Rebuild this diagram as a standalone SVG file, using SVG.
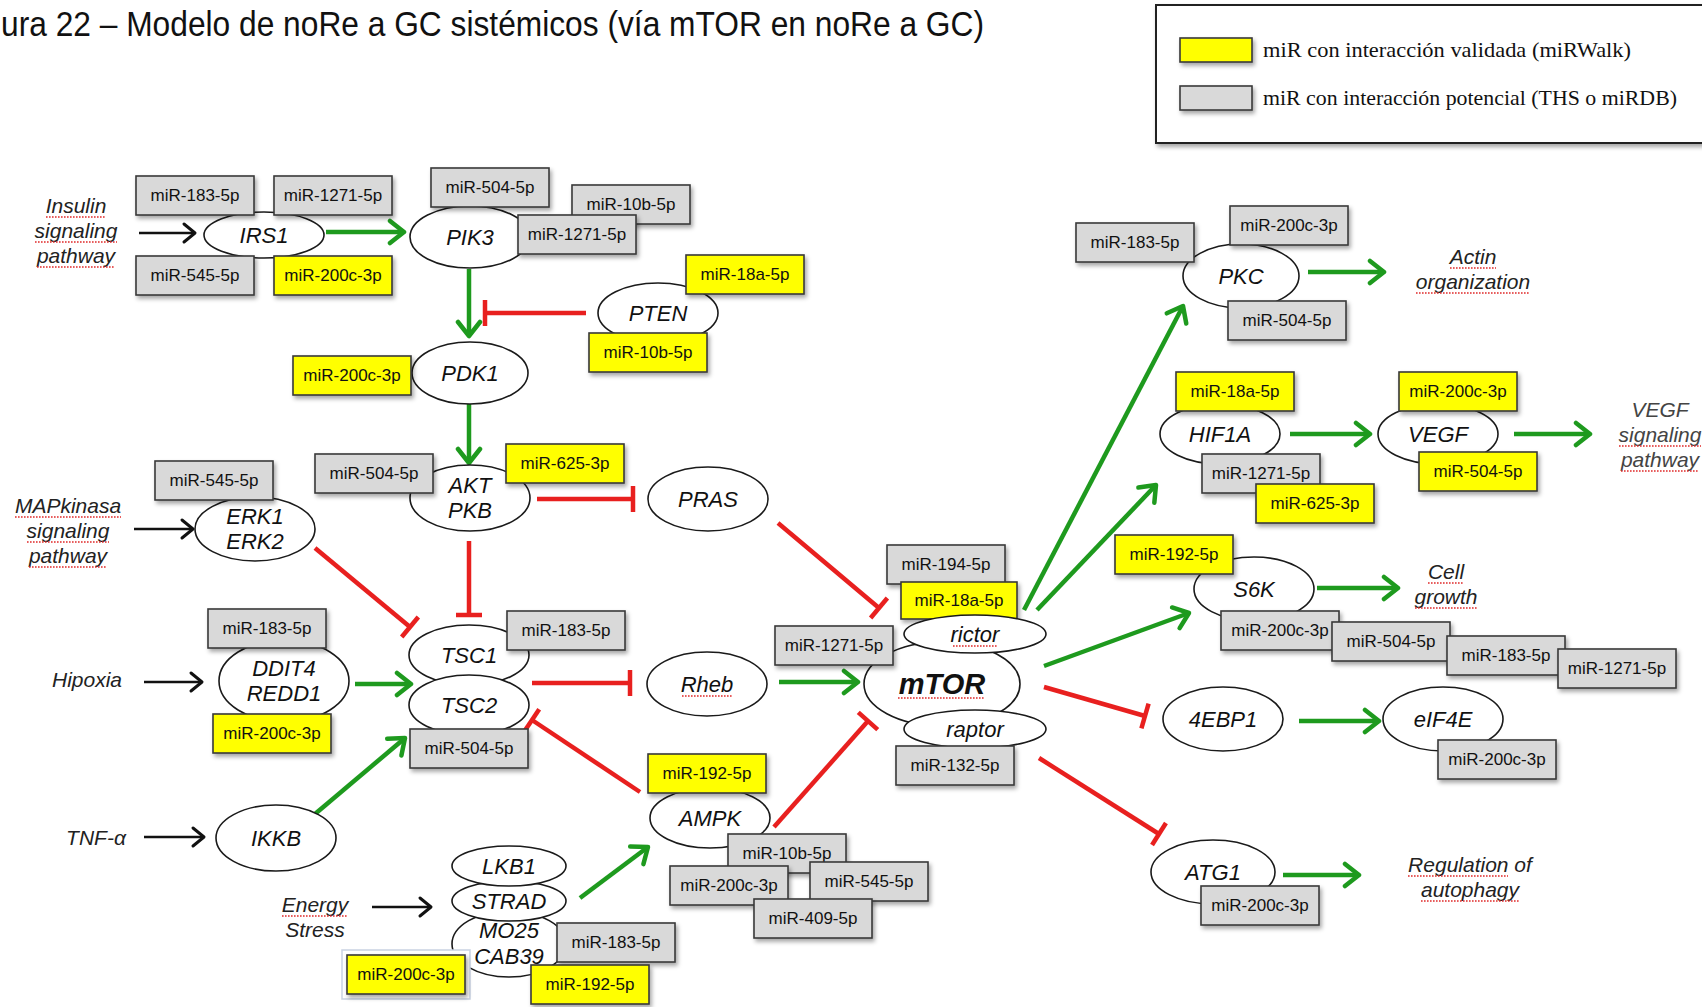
<svg xmlns="http://www.w3.org/2000/svg" width="1702" height="1007" viewBox="0 0 1702 1007">
<style>
  .g{fill:#d9d9d9;stroke:#3a3a3a;stroke-width:1.6;filter:url(#sh)}
  .y{fill:#ffff00;stroke:#3a3a3a;stroke-width:1.6;filter:url(#sh)}
  .e{fill:#fff;stroke:#1a1a1a;stroke-width:1.6}
  .ml{font-family:"Liberation Sans",Arial,sans-serif;font-size:17px;fill:#111;text-anchor:middle}
  .nl{font-family:"Liberation Sans",Arial,sans-serif;font-size:22px;font-style:italic;fill:#111;text-anchor:middle}
  .tx{font-family:"Liberation Sans",Arial,sans-serif;font-size:21px;font-style:italic;fill:#222;text-anchor:middle}
  .wv{stroke:#e02a2a;stroke-width:1.6;stroke-dasharray:1.6 1.4;fill:none}
  .ga{stroke:#1e9a1e;stroke-width:4.5;fill:none;marker-end:url(#ag)}
  .ba{stroke:#111;stroke-width:2.5;fill:none;marker-end:url(#ab)}
  .ri{stroke:#e8201f;stroke-width:4.5;fill:none;marker-end:url(#tb)}
  .lg{font-family:"Liberation Serif","Times New Roman",serif;font-size:22px;fill:#111}
</style>
<defs>
  <filter id="sh" x="-10%" y="-20%" width="130%" height="160%">
    <feDropShadow dx="2" dy="3" stdDeviation="2" flood-color="#000" flood-opacity="0.35"/>
  </filter>
  <marker id="ag" markerUnits="userSpaceOnUse" markerWidth="24" markerHeight="28" refX="19" refY="14" orient="auto">
    <path d="M5,3 L19,14 L5,25" fill="none" stroke="#1e9a1e" stroke-width="4.5" stroke-linecap="round" stroke-linejoin="round"/>
  </marker>
  <marker id="ab" markerUnits="userSpaceOnUse" markerWidth="20" markerHeight="24" refX="16" refY="12" orient="auto">
    <path d="M5,3 L16,12 L5,21" fill="none" stroke="#111" stroke-width="3" stroke-linecap="round" stroke-linejoin="round"/>
  </marker>
  <marker id="tb" markerUnits="userSpaceOnUse" markerWidth="8" markerHeight="30" refX="4" refY="15" orient="auto">
    <line x1="4" y1="2" x2="4" y2="28" stroke="#e8201f" stroke-width="4.5"/>
  </marker>
</defs>
<rect width="1702" height="1007" fill="#fff"/>

<text x="1" y="36" font-family="'Liberation Sans',Arial,sans-serif" font-size="35" fill="#111" textLength="983" lengthAdjust="spacingAndGlyphs">ura 22 – Modelo de noRe a GC sistémicos (vía mTOR en noRe a GC)</text>

<g id="legend">
  <rect x="1156" y="5" width="600" height="138" fill="#fff" stroke="#222" stroke-width="2" filter="url(#sh)"/>
  <rect x="1180" y="38" width="72" height="24" class="y"/>
  <text x="1263" y="57" class="lg" textLength="368" lengthAdjust="spacingAndGlyphs">miR con interacción validada (miRWalk)</text>
  <rect x="1180" y="86" width="72" height="24" class="g"/>
  <text x="1263" y="105" class="lg" textLength="414" lengthAdjust="spacingAndGlyphs">miR con interacción potencial (THS o miRDB)</text>
</g>

<g id="connectors">
  <line class="ba" x1="139" y1="233" x2="195" y2="233"/>
  <line class="ba" x1="134" y1="529" x2="193" y2="529"/>
  <line class="ba" x1="144" y1="682" x2="202" y2="682"/>
  <line class="ba" x1="144" y1="837" x2="204" y2="837"/>
  <line class="ba" x1="372" y1="907" x2="431" y2="907"/>
  <line class="ga" x1="326" y1="232" x2="404" y2="232"/>
  <line class="ga" x1="469" y1="269" x2="469" y2="336"/>
  <line class="ga" x1="469" y1="404" x2="469" y2="463"/>
  <line class="ga" x1="355" y1="684" x2="411" y2="684"/>
  <line class="ga" x1="315" y1="814" x2="405" y2="738"/>
  <line class="ga" x1="779" y1="682" x2="858" y2="682"/>
  <line class="ga" x1="580" y1="898" x2="648" y2="847"/>
  <line class="ga" x1="1024" y1="610" x2="1183" y2="306"/>
  <line class="ga" x1="1037" y1="610" x2="1156" y2="485"/>
  <line class="ga" x1="1044" y1="666" x2="1189" y2="613"/>
  <line class="ga" x1="1308" y1="272" x2="1384" y2="272"/>
  <line class="ga" x1="1290" y1="434" x2="1370" y2="434"/>
  <line class="ga" x1="1514" y1="434" x2="1590" y2="434"/>
  <line class="ga" x1="1317" y1="588" x2="1398" y2="588"/>
  <line class="ga" x1="1299" y1="721" x2="1379" y2="721"/>
  <line class="ga" x1="1283" y1="875" x2="1359" y2="875"/>
  <line class="ri" x1="586" y1="313" x2="485" y2="313"/>
  <line class="ri" x1="537" y1="499" x2="633" y2="499"/>
  <line class="ri" x1="469" y1="541" x2="469" y2="615"/>
  <line class="ri" x1="778" y1="523" x2="879" y2="608"/>
  <line class="ri" x1="315" y1="548" x2="410" y2="627"/>
  <line class="ri" x1="532" y1="683" x2="630" y2="683"/>
  <line class="ri" x1="640" y1="792" x2="532" y2="720"/>
  <line class="ri" x1="774" y1="827" x2="868" y2="721"/>
  <line class="ri" x1="1044" y1="687" x2="1145" y2="716"/>
  <line class="ri" x1="1039" y1="758" x2="1159" y2="834"/>
</g>

<g id="lbl-insulin">
  <text class="tx" x="76" y="213">Insulin</text>
  <text class="tx" x="76" y="238">signaling</text>
  <text class="tx" x="76" y="263">pathway</text>
  <line class="wv" x1="46" y1="217" x2="106" y2="217"/>
  <line class="wv" x1="35" y1="242" x2="117" y2="242"/>
  <line class="wv" x1="37" y1="267" x2="115" y2="267"/>
</g>
<g id="lbl-mapk">
  <text class="tx" x="68" y="513">MAPkinasa</text>
  <text class="tx" x="68" y="538">signaling</text>
  <text class="tx" x="68" y="563">pathway</text>
  <line class="wv" x1="15" y1="517" x2="121" y2="517"/>
  <line class="wv" x1="27" y1="542" x2="109" y2="542"/>
  <line class="wv" x1="29" y1="567" x2="107" y2="567"/>
</g>
<g id="lbl-hipoxia"><text class="tx" x="87" y="687">Hipoxia</text></g>
<g id="lbl-tnf"><text class="tx" x="96" y="845">TNF-α</text></g>
<g id="lbl-energy">
  <text class="tx" x="315" y="912">Energy</text>
  <text class="tx" x="315" y="937">Stress</text>
  <line class="wv" x1="282" y1="916" x2="348" y2="916"/>
</g>
<g id="lbl-actin">
  <text class="tx" x="1473" y="264">Actin</text>
  <text class="tx" x="1473" y="289">organization</text>
  <line class="wv" x1="1450" y1="268" x2="1496" y2="268"/>
  <line class="wv" x1="1416" y1="293" x2="1530" y2="293"/>
</g>
<g id="lbl-vegf">
  <text class="tx" x="1660" y="417" style="fill:#444">VEGF</text>
  <text class="tx" x="1660" y="442" style="fill:#444">signaling</text>
  <text class="tx" x="1660" y="467" style="fill:#444">pathway</text>
  <line class="wv" x1="1619" y1="446" x2="1701" y2="446"/>
  <line class="wv" x1="1621" y1="471" x2="1699" y2="471"/>
</g>
<g id="lbl-cell">
  <text class="tx" x="1446" y="579">Cell</text>
  <text class="tx" x="1446" y="604">growth</text>
  <line class="wv" x1="1428" y1="583" x2="1464" y2="583"/>
  <line class="wv" x1="1415" y1="608" x2="1477" y2="608"/>
</g>
<g id="lbl-autophagy">
  <text class="tx" x="1470" y="872">Regulation of</text>
  <text class="tx" x="1470" y="897">autophagy</text>
  <line class="wv" x1="1408" y1="876" x2="1508" y2="876"/>
  <line class="wv" x1="1421" y1="901" x2="1519" y2="901"/>
</g>

<g id="n-irs1">
  <ellipse class="e" cx="264" cy="235" rx="60" ry="23"/>
  <text class="nl" x="264" y="243">IRS1</text>
  <rect class="g" x="136" y="176" width="118" height="39"/><text class="ml" x="195" y="201">miR-183-5p</text>
  <rect class="g" x="274" y="176" width="118" height="39"/><text class="ml" x="333" y="201">miR-1271-5p</text>
  <rect class="g" x="136" y="256" width="118" height="39"/><text class="ml" x="195" y="281">miR-545-5p</text>
  <rect class="y" x="274" y="256" width="118" height="39"/><text class="ml" x="333" y="281">miR-200c-3p</text>
</g>

<g id="n-pik3">
  <ellipse class="e" cx="470" cy="237" rx="60" ry="31"/>
  <text class="nl" x="470" y="245">PIK3</text>
  <rect class="g" x="431" y="168" width="118" height="39"/><text class="ml" x="490" y="193">miR-504-5p</text>
  <rect class="g" x="572" y="185" width="118" height="39"/><text class="ml" x="631" y="210">miR-10b-5p</text>
  <rect class="g" x="518" y="215" width="118" height="39"/><text class="ml" x="577" y="240">miR-1271-5p</text>
</g>

<g id="n-pten">
  <ellipse class="e" cx="658" cy="313" rx="60" ry="30"/>
  <text class="nl" x="658" y="321">PTEN</text>
  <rect class="y" x="686" y="255" width="118" height="39"/><text class="ml" x="745" y="280">miR-18a-5p</text>
  <rect class="y" x="589" y="333" width="118" height="39"/><text class="ml" x="648" y="358">miR-10b-5p</text>
</g>

<g id="n-pdk1">
  <ellipse class="e" cx="470" cy="373" rx="58" ry="31"/>
  <text class="nl" x="470" y="381">PDK1</text>
  <rect class="y" x="293" y="356" width="118" height="39"/><text class="ml" x="352" y="381">miR-200c-3p</text>
</g>

<g id="n-akt">
  <ellipse class="e" cx="470" cy="498" rx="60" ry="33"/>
  <text class="nl" x="470" y="493">AKT</text>
  <text class="nl" x="470" y="518">PKB</text>
  <rect class="g" x="315" y="454" width="118" height="39"/><text class="ml" x="374" y="479">miR-504-5p</text>
  <rect class="y" x="506" y="444" width="118" height="39"/><text class="ml" x="565" y="469">miR-625-3p</text>
</g>

<g id="n-pras">
  <ellipse class="e" cx="708" cy="499" rx="60" ry="32"/>
  <text class="nl" x="708" y="507">PRAS</text>
</g>

<g id="n-erk">
  <ellipse class="e" cx="255" cy="529" rx="60" ry="32"/>
  <text class="nl" x="255" y="524">ERK1</text>
  <text class="nl" x="255" y="549">ERK2</text>
  <rect class="g" x="155" y="461" width="118" height="39"/><text class="ml" x="214" y="486">miR-545-5p</text>
</g>

<g id="n-ddit4">
  <ellipse class="e" cx="284" cy="681" rx="65" ry="41"/>
  <text class="nl" x="284" y="676">DDIT4</text>
  <text class="nl" x="284" y="701">REDD1</text>
  <rect class="g" x="208" y="609" width="118" height="39"/><text class="ml" x="267" y="634">miR-183-5p</text>
  <rect class="y" x="213" y="714" width="118" height="39"/><text class="ml" x="272" y="739">miR-200c-3p</text>
</g>

<g id="n-tsc">
  <ellipse class="e" cx="469" cy="655" rx="60" ry="30"/>
  <text class="nl" x="469" y="663">TSC1</text>
  <ellipse class="e" cx="469" cy="705" rx="60" ry="30"/>
  <text class="nl" x="469" y="713">TSC2</text>
  <rect class="g" x="507" y="611" width="118" height="39"/><text class="ml" x="566" y="636">miR-183-5p</text>
  <rect class="g" x="410" y="729" width="118" height="39"/><text class="ml" x="469" y="754">miR-504-5p</text>
</g>

<g id="n-ikkb">
  <ellipse class="e" cx="276" cy="838" rx="60" ry="33"/>
  <text class="nl" x="276" y="846">IKKB</text>
</g>

<g id="n-rheb">
  <ellipse class="e" cx="707" cy="684" rx="60" ry="32"/>
  <text class="nl" x="707" y="692">Rheb</text>
  <line class="wv" x1="682" y1="696" x2="732" y2="696"/>
</g>

<g id="n-mtor">
  <ellipse class="e" cx="942" cy="684" rx="78" ry="42"/>
  <text class="nl" x="942" y="694" style="font-size:29px;font-weight:bold">mTOR</text>
  <line class="wv" x1="898" y1="698" x2="984" y2="698"/>
  <rect class="g" x="887" y="545" width="118" height="39"/><text class="ml" x="946" y="570">miR-194-5p</text>
  <rect class="y" x="901" y="582" width="116" height="37"/><text class="ml" x="959" y="606">miR-18a-5p</text>
  <ellipse class="e" cx="975" cy="634" rx="71" ry="19"/>
  <text class="nl" x="975" y="642">rictor</text>
  <line class="wv" x1="953" y1="646" x2="997" y2="646"/>
  <ellipse class="e" cx="975" cy="729" rx="71" ry="19"/>
  <text class="nl" x="975" y="737">raptor</text>
  <rect class="g" x="775" y="626" width="118" height="39"/><text class="ml" x="834" y="651">miR-1271-5p</text>
  <rect class="g" x="896" y="746" width="118" height="39"/><text class="ml" x="955" y="771">miR-132-5p</text>
</g>

<g id="n-ampk">
  <ellipse class="e" cx="710" cy="818" rx="60" ry="30"/>
  <text class="nl" x="710" y="826">AMPK</text>
  <rect class="y" x="648" y="754" width="118" height="39"/><text class="ml" x="707" y="779">miR-192-5p</text>
  <rect class="g" x="728" y="834" width="118" height="39"/><text class="ml" x="787" y="859">miR-10b-5p</text>
  <rect class="g" x="670" y="866" width="118" height="39"/><text class="ml" x="729" y="891">miR-200c-3p</text>
  <rect class="g" x="810" y="862" width="118" height="39"/><text class="ml" x="869" y="887">miR-545-5p</text>
  <rect class="g" x="754" y="899" width="118" height="39"/><text class="ml" x="813" y="924">miR-409-5p</text>
</g>

<g id="n-lkb1">
  <ellipse class="e" cx="509" cy="944" rx="57" ry="33"/>
  <text class="nl" x="509" y="938">MO25</text>
  <text class="nl" x="509" y="964">CAB39</text>
  <ellipse class="e" cx="509" cy="901" rx="57" ry="20"/>
  <text class="nl" x="509" y="909">STRAD</text>
  <ellipse class="e" cx="509" cy="866" rx="57" ry="20"/>
  <text class="nl" x="509" y="874">LKB1</text>
  <rect class="g" x="557" y="923" width="118" height="39"/><text class="ml" x="616" y="948">miR-183-5p</text>
  <rect x="342" y="950" width="128" height="49" fill="#fff" stroke="#c9d2e2" stroke-width="1.5"/>
  <rect class="y" x="347" y="955" width="118" height="39"/><text class="ml" x="406" y="980">miR-200c-3p</text>
  <rect class="y" x="531" y="965" width="118" height="39"/><text class="ml" x="590" y="990">miR-192-5p</text>
</g>

<g id="n-pkc">
  <ellipse class="e" cx="1241" cy="276" rx="58" ry="32"/>
  <text class="nl" x="1241" y="284">PKC</text>
  <rect class="g" x="1076" y="223" width="118" height="39"/><text class="ml" x="1135" y="248">miR-183-5p</text>
  <rect class="g" x="1230" y="206" width="118" height="39"/><text class="ml" x="1289" y="231">miR-200c-3p</text>
  <rect class="g" x="1228" y="301" width="118" height="39"/><text class="ml" x="1287" y="326">miR-504-5p</text>
</g>

<g id="n-hif1a">
  <ellipse class="e" cx="1220" cy="434" rx="60" ry="30"/>
  <text class="nl" x="1220" y="442">HIF1A</text>
  <rect class="y" x="1176" y="372" width="118" height="39"/><text class="ml" x="1235" y="397">miR-18a-5p</text>
  <rect class="g" x="1202" y="454" width="118" height="39"/><text class="ml" x="1261" y="479">miR-1271-5p</text>
  <rect class="y" x="1256" y="484" width="118" height="39"/><text class="ml" x="1315" y="509">miR-625-3p</text>
</g>

<g id="n-vegf">
  <ellipse class="e" cx="1438" cy="434" rx="60" ry="30"/>
  <text class="nl" x="1438" y="442">VEGF</text>
  <rect class="y" x="1399" y="372" width="118" height="39"/><text class="ml" x="1458" y="397">miR-200c-3p</text>
  <rect class="y" x="1419" y="452" width="118" height="39"/><text class="ml" x="1478" y="477">miR-504-5p</text>
</g>

<g id="n-s6k">
  <ellipse class="e" cx="1254" cy="589" rx="60" ry="32"/>
  <text class="nl" x="1254" y="597">S6K</text>
  <rect class="y" x="1115" y="535" width="118" height="39"/><text class="ml" x="1174" y="560">miR-192-5p</text>
  <rect class="g" x="1221" y="611" width="118" height="39"/><text class="ml" x="1280" y="636">miR-200c-3p</text>
  <rect class="g" x="1332" y="622" width="118" height="39"/><text class="ml" x="1391" y="647">miR-504-5p</text>
  <rect class="g" x="1447" y="636" width="118" height="39"/><text class="ml" x="1506" y="661">miR-183-5p</text>
  <rect class="g" x="1558" y="649" width="118" height="39"/><text class="ml" x="1617" y="674">miR-1271-5p</text>
</g>

<g id="n-4ebp1">
  <ellipse class="e" cx="1223" cy="719" rx="60" ry="32"/>
  <text class="nl" x="1223" y="727">4EBP1</text>
</g>

<g id="n-eif4e">
  <ellipse class="e" cx="1443" cy="719" rx="60" ry="32"/>
  <text class="nl" x="1443" y="727">eIF4E</text>
  <rect class="g" x="1438" y="740" width="118" height="39"/><text class="ml" x="1497" y="765">miR-200c-3p</text>
</g>

<g id="n-atg1">
  <ellipse class="e" cx="1213" cy="872" rx="62" ry="32"/>
  <text class="nl" x="1213" y="880">ATG1</text>
  <rect class="g" x="1201" y="886" width="118" height="39"/><text class="ml" x="1260" y="911">miR-200c-3p</text>
</g>
</svg>
